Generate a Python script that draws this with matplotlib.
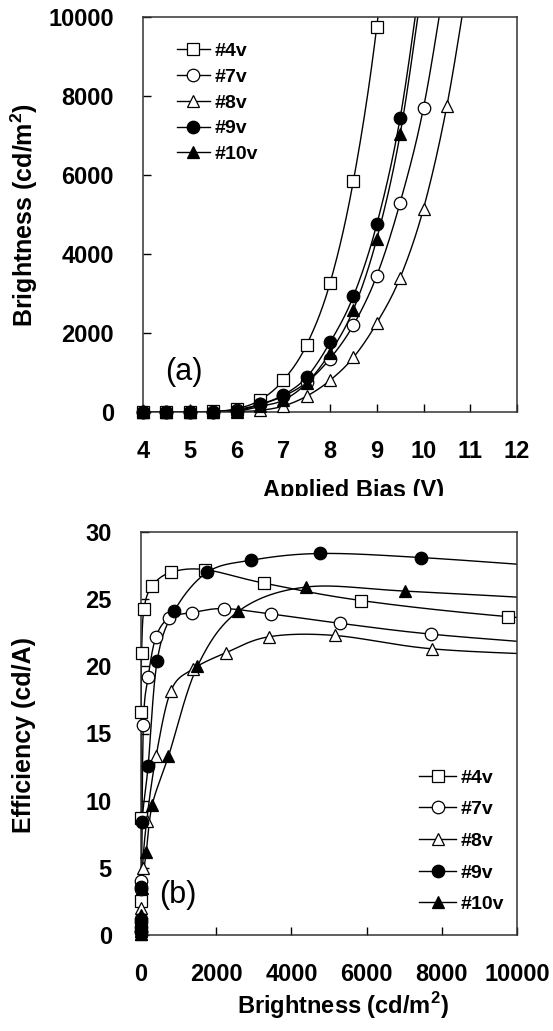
import numpy as np
import matplotlib
matplotlib.use('Agg')
import matplotlib.pyplot as plt
from matplotlib.transforms import Bbox

plt.rcParams['font.family'] = ['Liberation Sans', 'DejaVu Sans']

# bias voltage steps (V)
volt = [4, 4.5, 5, 5.5, 6, 6.5, 7, 7.5, 8, 8.5, 9, 9.5, 10, 10.5, 11]

# brightness (cd/m2) per device, one value per voltage step
b4 = [0.3, 1, 4, 15, 80, 300, 800, 1700, 3260, 5850, 9750, 15500]
b7 = [0.2, 1, 3, 12, 62, 190, 400, 750, 1350, 2200, 3450, 5300, 7700, 11200]
b8 = [0.1, 0.5, 1, 3, 10, 40, 150, 400, 800, 1380, 2250, 3400, 5150, 7750, 11300]
b9 = [0.2, 0.5, 2, 8, 30, 190, 430, 880, 1760, 2930, 4750, 7440, 11500]
b10 = [0.1, 0.3, 1, 5, 20, 140, 300, 730, 1500, 2590, 4380, 7030, 11000]

# current efficiency (cd/A) at the same steps
e4 = [2.5, 8.7, 16.6, 21.0, 24.3, 26.0, 27.0, 27.2, 26.2, 24.9, 23.7, 22.5]
e7 = [0.3, 1.0, 3.4, 4.0, 15.6, 19.2, 22.2, 23.6, 24.0, 24.3, 23.9, 23.2, 22.4, 21.6]
e8 = [0.1, 0.3, 0.6, 1.0, 2.0, 5.0, 8.5, 13.3, 18.2, 19.8, 21.0, 22.2, 22.3, 21.3, 20.8]
e9 = [0.2, 0.6, 1.2, 3.6, 8.4, 12.6, 20.4, 24.1, 27.0, 27.9, 28.4, 28.1, 27.3]
e10 = [0.1, 0.3, 0.6, 1.5, 3.5, 6.2, 9.7, 13.3, 20.0, 24.1, 25.9, 25.6, 25.0]

labels = ['#4v', '#7v', '#8v', '#9v', '#10v']
markers = ['s', 'o', '^', 'o', '^']
faces = ['white', 'white', 'white', 'black', 'black']
brights = [b4, b7, b8, b9, b10]
effs = [e4, e7, e8, e9, e10]


def smooth(x, y, xspan, yspan, n=30):
    # excel-like smoothed line (bezier through the points), done in axes units
    P = np.column_stack([np.asarray(x, float) / xspan, np.asarray(y, float) / yspan])
    P = np.vstack([2 * P[0] - P[1], P, 2 * P[-1] - P[-2]])
    t = np.linspace(0, 1, n, endpoint=False)[:, None]
    out = []
    for i in range(1, len(P) - 2):
        p0, p1, p2, p3 = P[i - 1], P[i], P[i + 1], P[i + 2]
        c1 = p1 + (p2 - p0) / 6
        c2 = p2 - (p3 - p1) / 6
        out.append((1 - t) ** 3 * p1 + 3 * (1 - t) ** 2 * t * c1 + 3 * (1 - t) * t ** 2 * c2 + t ** 3 * p2)
    out.append(P[-2][None])
    r = np.vstack(out)
    return r[:, 0] * xspan, r[:, 1] * yspan


def msize(m):
    return 8.5 if m == 's' else 9


fig = plt.figure(figsize=(5.53, 10.31), dpi=100)
ax1 = fig.add_axes([143 / 553, 1 - 412 / 1031, 374 / 553, 395 / 1031])
ax2 = fig.add_axes([141 / 553, 1 - 935 / 1031, 376 / 553, 403 / 1031])

# (a) brightness vs bias
for lab, m, fc, b in zip(labels, markers, faces, brights):
    v = volt[:len(b)]
    xs, ys = smooth(v, b, 8, 10000 * 374 / 395)
    ax1.plot(xs, ys, color='black', lw=1.0)
    vin = [a for a, c in zip(v, b) if c <= 10000]
    bin_ = [c for c in b if c <= 10000]
    ax1.plot(vin, bin_, ls='none', marker=m, ms=msize(m), mfc=fc, mec='black',
             mew=0.9, clip_on=False, zorder=3)
    ax1.plot([], [], color='black', lw=1.0, marker=m, ms=msize(m), mfc=fc,
             mec='black', mew=0.9, label=lab)

ax1.set_xlim(4, 12)
ax1.set_ylim(0, 10000)
ax1.set_xticks(range(4, 13))
ax1.set_yticks(range(0, 10001, 2000))
ax1.text(184, 1031 - 372, '(a)', fontsize=22, ha='center', va='center', transform=None)
leg1 = ax1.legend(loc='upper left', bbox_to_anchor=(0.07, 0.955), frameon=False,
                  prop={'weight': 'bold', 'size': 14}, handlelength=1.7, handletextpad=0.25,
                  labelspacing=0.42, borderaxespad=0)

# (b) efficiency vs brightness
for lab, m, fc, b, e in zip(labels, markers, faces, brights, effs):
    xs, ys = smooth(b, e, 10000, 30 * 376 / 403)
    ax2.plot(xs, ys, color='black', lw=1.0)
    bin_ = [c for c in b if c <= 10000]
    ein = [d for c, d in zip(b, e) if c <= 10000]
    ax2.plot(bin_, ein, ls='none', marker=m, ms=msize(m), mfc=fc, mec='black',
             mew=0.9, clip_on=False, zorder=3)
    ax2.plot([], [], color='black', lw=1.0, marker=m, ms=msize(m), mfc=fc,
             mec='black', mew=0.9, label=lab)

ax2.set_xlim(0, 10000)
ax2.set_ylim(0, 30)
ax2.set_xticks(range(0, 10001, 2000))
ax2.set_yticks(range(0, 31, 5))
ax2.text(178, 1031 - 895, '(b)', fontsize=22, ha='center', va='center', transform=None)
leg2 = ax2.legend(loc='lower left', bbox_to_anchor=(0.72, 0.035), frameon=False,
                  prop={'weight': 'bold', 'size': 14}, handlelength=1.9, handletextpad=0.2,
                  labelspacing=0.72, borderaxespad=0)

for ax in (ax1, ax2):
    ax.tick_params(direction='in', length=6, width=1, labelsize=17, pad=21)
    ax.tick_params(axis='x', pad=20)
    for t in ax.get_xticklabels() + ax.get_yticklabels():
        t.set_fontweight('bold')
    for s in ax.spines.values():
        s.set_linewidth(1.1)
        s.set_color('#333333')

# axis titles
fig.text(24 / 553, 1 - 215 / 1031, 'Brightness (cd/m$^{\\mathregular{2}}$)', rotation=90,
         ha='center', va='center', fontsize=18, fontweight='bold')
fig.text(24 / 553, 1 - 735 / 1031, 'Efficiency (cd/A)', rotation=90,
         ha='center', va='center', fontsize=18, fontweight='bold')
xl = fig.text(354 / 553, 1 - 497 / 1031, 'Applied Bias (V)', ha='center', va='baseline',
              fontsize=17, fontweight='bold')
xl.set_clip_box(Bbox([[0, 1031 - 496], [553, 1031]]))
xl.set_clip_on(True)
fig.text(343 / 553, 1 - 1006 / 1031, 'Brightness (cd/m$^{\\mathregular{2}}$)', ha='center',
         va='center', fontsize=17, fontweight='bold')

fig.savefig('out.png', dpi=100)
